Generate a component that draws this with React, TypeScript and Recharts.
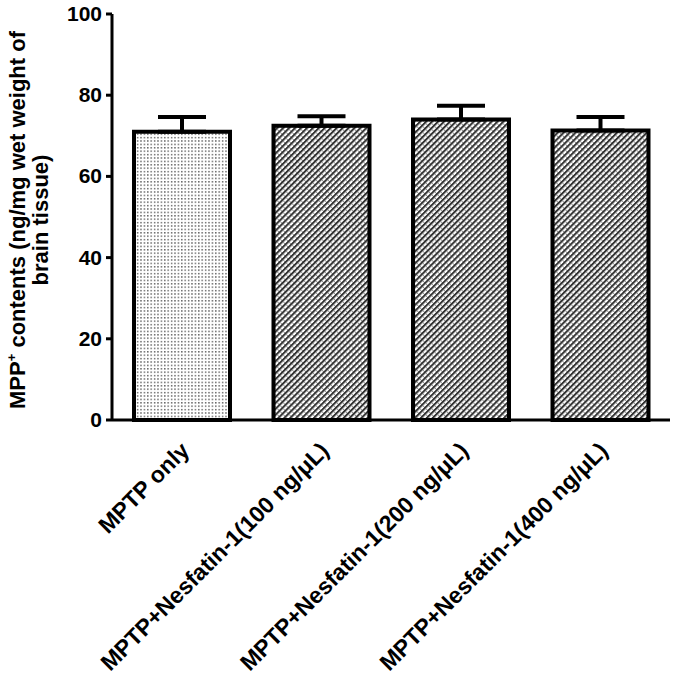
import { BarChart, Bar, XAxis, YAxis, ErrorBar, Cell } from 'recharts'

const groups = [
  'MPTP only',
  'MPTP+Nesfatin-1(100 ng/μL)',
  'MPTP+Nesfatin-1(200 ng/μL)',
  'MPTP+Nesfatin-1(400 ng/μL)',
]
const means = [71, 72.5, 74, 71.3]
const sem = [3.6, 2.3, 3.4, 3.3]
const fills = ['url(#dots)', 'url(#hatch)', 'url(#hatch)', 'url(#hatch)']
const yTicks = [0, 20, 40, 60, 80, 100]

const data = groups.map((name, i) => ({ name, value: means[i], err: [0, sem[i]] }))

const FONT = '"Liberation Sans", Arial, sans-serif'

function XTick({ x, y, payload }: any) {
  const ax = x + 9
  const ay = y + 24
  return (
    <text
      x={ax}
      y={ay}
      transform={`rotate(-45, ${ax}, ${ay})`}
      textAnchor="end"
      fontFamily={FONT}
      fontWeight="bold"
      fontSize={23}
      fill="#000"
    >
      {payload.value}
    </text>
  )
}

function YTick({ x, y, payload }: any) {
  return (
    <text
      x={x - 2}
      y={y + 7}
      textAnchor="end"
      fontFamily={FONT}
      fontWeight="bold"
      fontSize={21}
      fill="#000"
    >
      {payload.value}
    </text>
  )
}

function YTitle() {
  const cy = 220
  return (
    <g fontFamily={FONT} fontWeight="bold" fontSize={22} fill="#000">
      <text x={25} y={cy} transform={`rotate(-90, 25, ${cy})`} textAnchor="middle">
        MPP<tspan fontSize={13} dy={-9}>+</tspan>
        <tspan dy={9}> contents (ng/mg wet weight of</tspan>
      </text>
      <text x={48} y={cy} transform={`rotate(-90, 48, ${cy})`} textAnchor="middle">
        brain tissue)
      </text>
    </g>
  )
}

export default function App() {
  return (
    <div style={{ position: 'absolute', left: 0, top: 0, background: '#fff' }}>
      <BarChart
        width={675}
        height={676}
        data={data}
        margin={{ top: 14, right: 5, left: 0, bottom: 0 }}
        barCategoryGap={22}
      >
        <defs>
          <pattern id="dots" width={3.4} height={3.4} patternUnits="userSpaceOnUse">
            <rect width={3.4} height={3.4} fill="#fff" />
            <rect x={0.9} y={0.9} width={1.4} height={1.4} fill="#555" />
          </pattern>
          <pattern
            id="hatch"
            width={4.2}
            height={4.2}
            patternUnits="userSpaceOnUse"
            patternTransform="rotate(45)"
          >
            <rect width={4.2} height={4.2} fill="#fff" />
            <rect x={0} y={0} width={2} height={4.2} fill="#333" />
            <rect x={2} y={0} width={2.2} height={0.8} fill="#888" />
          </pattern>
        </defs>
        <XAxis
          dataKey="name"
          height={256}
          interval={0}
          tickLine={false}
          axisLine={{ stroke: '#000', strokeWidth: 3 }}
          tick={<XTick />}
        />
        <YAxis
          width={112}
          domain={[0, 100]}
          ticks={yTicks}
          tickSize={6}
          tickLine={{ stroke: '#000', strokeWidth: 3 }}
          axisLine={{ stroke: '#000', strokeWidth: 3 }}
          tick={<YTick />}
          label={{ content: () => <YTitle /> }}
        />
        <Bar dataKey="value" stroke="#000" strokeWidth={4} isAnimationActive={false}>
          {data.map((d, i) => (
            <Cell key={d.name} fill={fills[i]} />
          ))}
          <ErrorBar dataKey="err" width={24} stroke="#000" strokeWidth={4} />
        </Bar>
      </BarChart>
    </div>
  )
}
